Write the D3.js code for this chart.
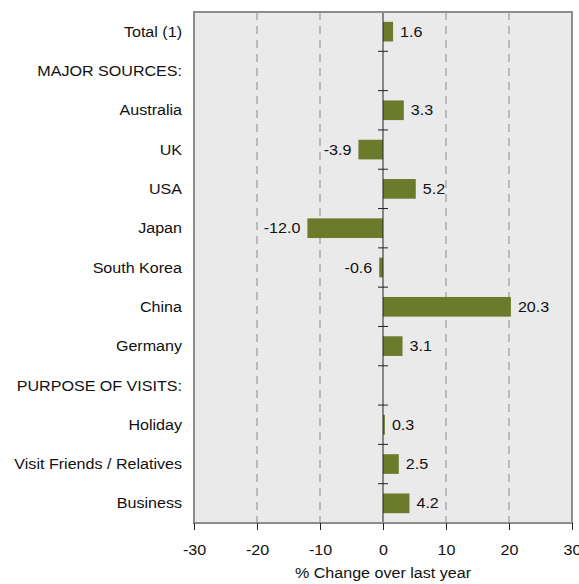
<!DOCTYPE html>
<html>
<head>
<meta charset="utf-8">
<script src="https://cdn.jsdelivr.net/npm/d3@7"></script>
<style>
  html, body { margin: 0; padding: 0; background: #fff; }
  svg text { font-family: "Liberation Sans", Arial, sans-serif; fill: #111; font-size: 14.5px; }
</style>
</head>
<body>
<svg id="chart" width="579" height="584"></svg>
<script>
// Categories top to bottom; null marks a section heading row without a bar
const categories = ["Total (1)", "MAJOR SOURCES:", "Australia", "UK", "USA", "Japan",
  "South Korea", "China", "Germany", "PURPOSE OF VISITS:", "Holiday",
  "Visit Friends / Relatives", "Business"];
const values = [1.6, null, 3.3, -3.9, 5.2, -12.0, -0.6, 20.3, 3.1, null, 0.3, 2.5, 4.2];
const xTicks = [-30, -20, -10, 0, 10, 20, 30];
const xTitle = "% Change over last year";

const svg = d3.select("#chart");
const plotL = 194, plotR = 572, plotT = 12, plotB = 523;
const stretch = 1.11; // slightly wide lettering

const x = d3.scaleLinear().domain([-30, 30]).range([plotL, plotR]);
const y = d3.scaleBand().domain(categories).range([plotT, plotB]).paddingInner(0).paddingOuter(0);
const barH = y.bandwidth() * 0.5;

// place a text at (px, py) with horizontal stretch
function place(sel, px, py) {
  return sel.attr("x", 0).attr("y", 0)
    .attr("transform", (d, i, n) => `translate(${px(d, i, n)},${py(d, i, n)}) scale(${stretch},1)`);
}

// plot background
svg.append("rect").attr("x", plotL).attr("y", plotT)
  .attr("width", plotR - plotL).attr("height", plotB - plotT)
  .attr("fill", "#eaeaea");

// dashed vertical gridlines
svg.append("g").selectAll("line")
  .data(xTicks.filter(d => d !== 0 && Math.abs(d) !== 30))
  .join("line")
  .attr("x1", d => x(d)).attr("x2", d => x(d))
  .attr("y1", plotT).attr("y2", plotB)
  .attr("stroke", "#8a8a8a").attr("stroke-width", 1)
  .attr("stroke-dasharray", "8,6");

// bars
const rows = categories.map((c, i) => ({ c, v: values[i] })).filter(d => d.v !== null);
svg.append("g").selectAll("rect")
  .data(rows)
  .join("rect")
  .attr("x", d => x(Math.min(0, d.v)))
  .attr("width", d => Math.abs(x(d.v) - x(0)))
  .attr("y", d => y(d.c) + (y.bandwidth() - barH) / 2)
  .attr("height", barH)
  .attr("fill", "#6b7a2b");

// value labels
place(svg.append("g").selectAll("text")
  .data(rows)
  .join("text")
  .attr("dy", "0.35em")
  .attr("text-anchor", d => d.v >= 0 ? "start" : "end")
  .text(d => d.v.toFixed(1)),
  d => d.v >= 0 ? x(d.v) + 7 : x(d.v) - 7,
  d => y(d.c) + y.bandwidth() / 2);

// zero axis with category separator ticks
const zero = svg.append("g");
zero.append("line")
  .attr("x1", x(0)).attr("x2", x(0)).attr("y1", plotT).attr("y2", plotB)
  .attr("stroke", "#222").attr("stroke-width", 1);
zero.selectAll("line.sep")
  .data(categories.slice(1))
  .join("line").attr("class", "sep")
  .attr("x1", x(0) - 5).attr("x2", x(0) + 5)
  .attr("y1", d => y(d)).attr("y2", d => y(d))
  .attr("stroke", "#222").attr("stroke-width", 1);
zero.append("line")
  .attr("x1", x(0) - 5).attr("x2", x(0) + 5).attr("y1", plotT).attr("y2", plotT)
  .attr("stroke", "#222");

// plot frame
svg.append("rect").attr("x", plotL).attr("y", plotT)
  .attr("width", plotR - plotL).attr("height", plotB - plotT)
  .attr("fill", "none").attr("stroke", "#8c8c8c").attr("stroke-width", 2);

// x axis
const xAxis = svg.append("g").attr("transform", `translate(0,${plotB})`)
  .call(d3.axisBottom(x).tickValues(xTicks).tickSize(7).tickPadding(10).tickFormat(d => String(d)));
xAxis.select(".domain").remove();
xAxis.selectAll(".tick line").attr("stroke", "#222");
xAxis.selectAll(".tick text")
  .attr("font-size", null).attr("font-family", null).attr("fill", "#111")
  .attr("dy", null)
  .attr("transform", `translate(0,32) scale(${stretch},1)`)
  .attr("y", 0);

place(svg.append("text")
  .attr("text-anchor", "middle")
  .text(xTitle), () => x(0), () => 578);

// category labels
place(svg.append("g").selectAll("text")
  .data(categories)
  .join("text")
  .attr("dy", "0.35em")
  .attr("text-anchor", "end")
  .text(d => d),
  () => 182,
  d => y(d) + y.bandwidth() / 2);
</script>
</body>
</html>
